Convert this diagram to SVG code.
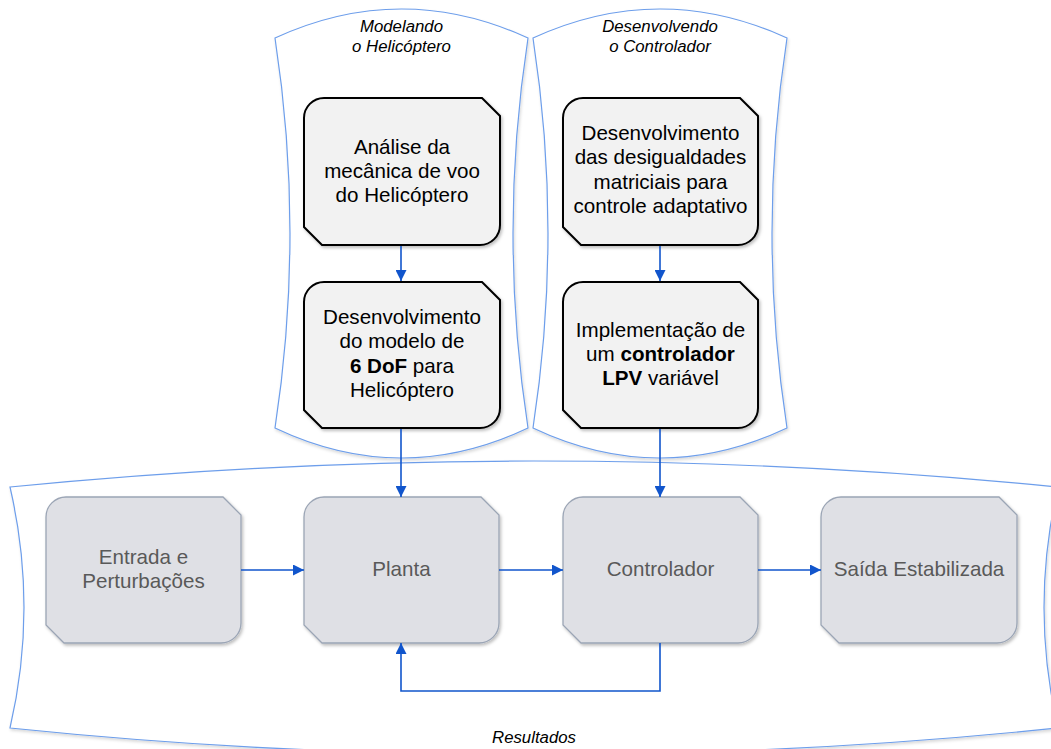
<svg xmlns="http://www.w3.org/2000/svg" width="1051" height="749" viewBox="0 0 1051 749">
<style>
.cont{fill:#ffffff;stroke:#6d9eeb;stroke-width:1.2;filter:url(#shc)}
.top{fill:#f2f2f2;stroke:#000000;stroke-width:2;filter:url(#sh)}
.bot{fill:#dfe0e5;stroke:#9ba5b5;stroke-width:1.3;filter:url(#sh)}
.lbl{font-family:"Liberation Sans",Arial,sans-serif;font-style:italic;font-size:16.8px;fill:#000000;text-anchor:middle}
.t{font-family:"Liberation Sans",Arial,sans-serif;font-size:20.6px;fill:#000000;text-anchor:middle}
.g{font-family:"Liberation Sans",Arial,sans-serif;font-size:20.6px;fill:#595959;text-anchor:middle}
.b{font-weight:bold}
.con{fill:none;stroke:#1155cc;stroke-width:1.6;marker-end:url(#arr)}
</style>
<defs>
<filter id="sh" x="-10%" y="-10%" width="120%" height="120%">
<feDropShadow dx="1.5" dy="2" stdDeviation="1.5" flood-color="#000000" flood-opacity="0.25"/>
</filter>
<filter id="shc" x="-5%" y="-5%" width="110%" height="110%">
<feDropShadow dx="1" dy="2" stdDeviation="1.5" flood-color="#000000" flood-opacity="0.15"/>
</filter>
<marker id="arr" viewBox="0 0 11 11" refX="11" refY="5.5" markerWidth="11" markerHeight="11" markerUnits="userSpaceOnUse" orient="auto">
<path d="M0,0 L11,5.5 L0,11 Z" fill="#1155cc"/>
</marker>
</defs>

<g id="container-resultados">
<path class="cont" d="M10,487 Q534,435 1058,487 Q1030,607.5 1058,728 Q534,782 10,728 Q38,607.5 10,487 Z"/>
<text class="lbl" x="534" y="743">Resultados</text>
</g>
<g id="container-modelando">
<path class="cont" d="M275,38 Q401.5,-20 528,38 Q498,233 528,428 Q401.5,488 275,428 Q305,233 275,38 Z"/>
<text class="lbl" x="401.5" y="31.5">Modelando</text>
<text class="lbl" x="401.5" y="51.5">o Helicóptero</text>
</g>
<g id="container-desenvolvendo">
<path class="cont" d="M533,38 Q660,-20 787,38 Q757,233 787,428 Q660,488 533,428 Q563,233 533,38 Z"/>
<text class="lbl" x="660" y="31.5">Desenvolvendo</text>
<text class="lbl" x="660" y="51.5">o Controlador</text>
</g>

<g id="n1">
<path class="top" d="M324,98 H482 L500,116 V225 A20,20 0 0 1 480,245 H322 L304,227 V118 A20,20 0 0 1 324,98 Z"/>
<text class="t" x="402" y="154">Análise da</text>
<text class="t" x="402" y="178">mecânica de voo</text>
<text class="t" x="402" y="202">do Helicóptero</text>
</g>
<g id="n2">
<path class="top" d="M324,282 H482 L500,300 V408 A20,20 0 0 1 480,428 H322 L304,410 V302 A20,20 0 0 1 324,282 Z"/>
<text class="t" x="402" y="324">Desenvolvimento</text>
<text class="t" x="402" y="348.3">do modelo de</text>
<text class="t" x="402" y="372.6"><tspan class="b">6 DoF</tspan> para</text>
<text class="t" x="402" y="397">Helicóptero</text>
</g>
<g id="n3">
<path class="top" d="M583,98 H740 L758,116 V225 A20,20 0 0 1 738,245 H581 L563,227 V118 A20,20 0 0 1 583,98 Z"/>
<text class="t" x="660.5" y="140">Desenvolvimento</text>
<text class="t" x="660.5" y="164.3">das desigualdades</text>
<text class="t" x="660.5" y="188.6">matriciais para</text>
<text class="t" x="660.5" y="213">controle adaptativo</text>
</g>
<g id="n4">
<path class="top" d="M583,282 H740 L758,300 V408 A20,20 0 0 1 738,428 H581 L563,410 V302 A20,20 0 0 1 583,282 Z"/>
<text class="t" x="660.5" y="336.5">Implementação de</text>
<text class="t" x="660.5" y="360.8">um <tspan class="b">controlador</tspan></text>
<text class="t" x="660.5" y="385"><tspan class="b">LPV</tspan> variável</text>
</g>
<g id="b1">
<path class="bot" d="M66,497 H223 L241,515 V623 A20,20 0 0 1 221,643 H64 L46,625 V517 A20,20 0 0 1 66,497 Z"/>
<text class="g" x="143.5" y="563.5">Entrada e</text>
<text class="g" x="143.5" y="587.5">Perturbações</text>
</g>
<g id="b2">
<path class="bot" d="M324,497 H481 L499,515 V623 A20,20 0 0 1 479,643 H322 L304,625 V517 A20,20 0 0 1 324,497 Z"/>
<text class="g" x="401.5" y="576">Planta</text>
</g>
<g id="b3">
<path class="bot" d="M583,497 H740 L758,515 V623 A20,20 0 0 1 738,643 H581 L563,625 V517 A20,20 0 0 1 583,497 Z"/>
<text class="g" x="660.5" y="576">Controlador</text>
</g>
<g id="b4">
<path class="bot" d="M841,497 H999 L1017,515 V623 A20,20 0 0 1 997,643 H839 L821,625 V517 A20,20 0 0 1 841,497 Z"/>
<text class="g" x="919" y="576">Saída Estabilizada</text>
</g>

<g id="connectors">
<path class="con" d="M401,246 V281"/>
<path class="con" d="M660,246 V281"/>
<path class="con" d="M401,429 V497"/>
<path class="con" d="M660,429 V497"/>
<path class="con" d="M241,570 H304"/>
<path class="con" d="M499,570 H563"/>
<path class="con" d="M758,570 H821"/>
<path class="con" d="M660,643 V691 H401 V643"/>
</g>
</svg>
